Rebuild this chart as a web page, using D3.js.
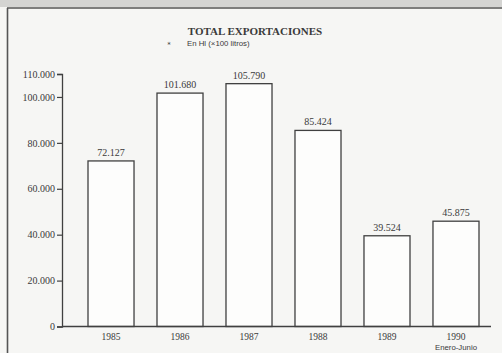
<!DOCTYPE html>
<html>
<head>
<meta charset="utf-8">
<script src="https://cdn.jsdelivr.net/npm/d3@7"></script>
<style>
  body { margin: 0; background: #f6f6f4; }
  text { fill: #3a3a3a; }
</style>
</head>
<body>
<script>
// data
const years = ["1985", "1986", "1987", "1988", "1989", "1990"]
const exports = [72127, 101680, 105790, 85424, 39524, 45875]
const valueLabels = ["72.127", "101.680", "105.790", "85.424", "39.524", "45.875"]
const yTicks = [0, 20000, 40000, 60000, 80000, 100000, 110000]

const w = 502, h = 353
const ink = "#404040"

let svg = d3.select("body").append("svg")
    .attr("width", w)
    .attr("height", h)

// page background and scan edges
svg.append("rect").attr("width", w).attr("height", h).attr("fill", "#f6f6f4")
svg.append("rect").attr("x", 0).attr("y", 0).attr("width", w).attr("height", 7).attr("fill", "#d4d4d2")
svg.append("line").attr("x1", 7).attr("x2", w).attr("y1", 8).attr("y2", 8)
    .attr("stroke", "#555").attr("stroke-width", 1.6)
svg.append("line").attr("x1", 7.5).attr("x2", 7.5).attr("y1", 8).attr("y2", h)
    .attr("stroke", "#555").attr("stroke-width", 1.6)

// title
svg.append("text")
    .attr("x", 255).attr("y", 35)
    .attr("text-anchor", "middle")
    .style("font-family", "'Liberation Serif', serif")
    .style("font-weight", "bold")
    .style("font-size", "11px")
    .text("TOTAL EXPORTACIONES")
svg.append("text")
    .attr("x", 169).attr("y", 47)
    .attr("text-anchor", "middle")
    .style("font-family", "'DejaVu Sans', sans-serif")
    .style("font-size", "7px")
    .text("*")
svg.append("text")
    .attr("x", 187).attr("y", 45.5)
    .style("font-family", "'Liberation Sans', sans-serif")
    .style("font-size", "7.8px")
    .text("En Hl (×100 litros)")

let x = d3.scaleBand()
    .domain(years)
    .range([76.5, 490.5])
    .paddingInner(0.333)
    .paddingOuter(0.1667)

let y = d3.scaleLinear()
    .domain([0, 110000])
    .range([326.5, 74])

// bars
svg.append("g").selectAll("rect")
    .data(exports)
    .enter().append("rect")
    .attr("x", (d, i) => x(years[i]))
    .attr("y", d => y(d))
    .attr("width", x.bandwidth())
    .attr("height", d => y(0) - y(d))
    .attr("fill", "#fdfdfc")
    .attr("stroke", ink)
    .attr("stroke-width", 1.3)

// value labels
svg.append("g").selectAll("text")
    .data(exports)
    .enter().append("text")
    .attr("x", (d, i) => x(years[i]) + x.bandwidth() / 2)
    .attr("y", d => y(d) - 5)
    .attr("text-anchor", "middle")
    .style("font-family", "'Liberation Serif', serif")
    .style("font-size", "10px")
    .text((d, i) => valueLabels[i])

// y axis
let yAxis = d3.axisLeft(y)
    .tickValues(yTicks)
    .tickSize(5)
    .tickFormat(d => d3.format(",")(d).replace(/,/g, "."))
let gy = svg.append("g")
    .attr("transform", "translate(62,0)")
    .call(yAxis)
gy.select(".domain").attr("stroke", ink).attr("stroke-width", 1.3)
gy.selectAll(".tick line").attr("stroke", ink).attr("stroke-width", 1.2)
gy.selectAll(".tick text")
    .attr("x", -7)
    .style("font-family", "'Liberation Serif', serif")
    .style("font-size", "10px")
    .attr("fill", "#3a3a3a")

// x axis
svg.append("line")
    .attr("x1", 62).attr("x2", 491)
    .attr("y1", y(0)).attr("y2", y(0))
    .attr("stroke", ink).attr("stroke-width", 1.4)

svg.append("g").selectAll("text")
    .data(years)
    .enter().append("text")
    .attr("x", d => x(d) + x.bandwidth() / 2)
    .attr("y", 340)
    .attr("text-anchor", "middle")
    .style("font-family", "'Liberation Serif', serif")
    .style("font-size", "9.5px")
    .text(d => d)

svg.append("text")
    .attr("x", x("1990") + x.bandwidth() / 2)
    .attr("y", 350)
    .attr("text-anchor", "middle")
    .style("font-family", "'Liberation Sans', sans-serif")
    .style("font-size", "7.8px")
    .text("Enero-Junio")
</script>
</body>
</html>
